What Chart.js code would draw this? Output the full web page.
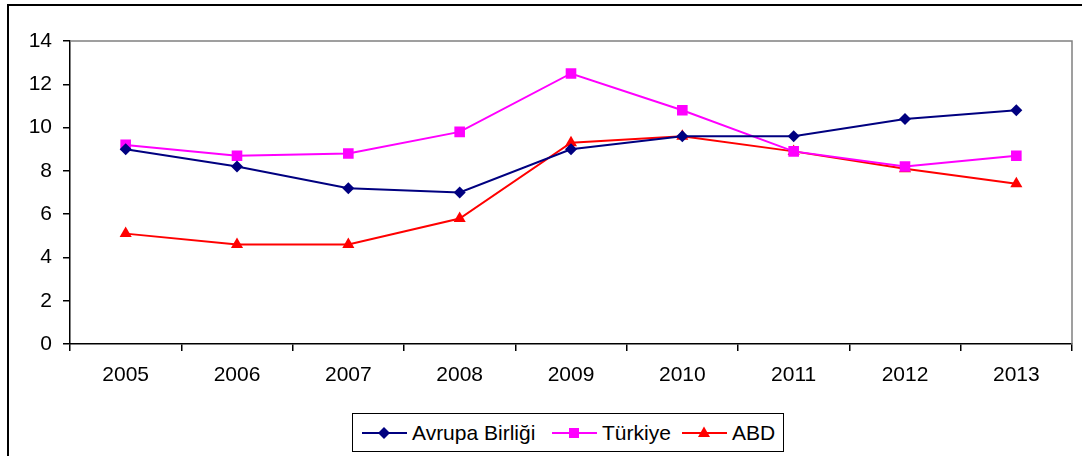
<!DOCTYPE html>
<html>
<head>
<meta charset="utf-8">
<script src="https://cdn.jsdelivr.net/npm/chart.js@4/dist/chart.umd.min.js"></script>
<style>
    html, body { margin: 0; padding: 0; background: #fff; overflow: hidden; }
    #wrap { position: relative; width: 1082px; height: 456px; overflow: hidden; }
    #frame { position: absolute; left: 7px; top: 4px; width: 1200px; height: 600px; border: 2px solid #000; box-sizing: border-box; }
    #chartBox { position: absolute; left: 0; top: 0; width: 1082px; height: 456px; }
    #legend {
        position: absolute; left: 352px; top: 413px; width: 432px; height: 39px;
        border: 1px solid #000; box-sizing: border-box; background: #fff;
        font-family: 'Liberation Sans', Arial, sans-serif; font-size: 21px; color: #000;
    }
    #legend .item { position: absolute; top: 0; height: 37px; display: flex; align-items: center; white-space: nowrap; }
    #legend svg { margin-right: 5px; }
</style>
</head>
<body>
<div id="wrap">
    <div id="frame"></div>
    <div id="chartBox"><canvas id="lineChart" width="1082" height="456"></canvas></div>
    <div id="legend"></div>
</div>
<script>
    const years = ['2005', '2006', '2007', '2008', '2009', '2010', '2011', '2012', '2013'];
    const avrupaBirligi = [9.0, 8.2, 7.2, 7.0, 9.0, 9.6, 9.6, 10.4, 10.8];
    const turkiye = [9.2, 8.7, 8.8, 9.8, 12.5, 10.8, 8.9, 8.2, 8.7];
    const abd = [5.1, 4.6, 4.6, 5.8, 9.3, 9.6, 8.9, 8.1, 7.4];
    const yTicks = [0, 2, 4, 6, 8, 10, 12, 14];

    const fontFamily = "'Liberation Sans', Arial, sans-serif";

    const series = [
        { label: 'Avrupa Birliği', data: avrupaBirligi, color: '#000080', pointStyle: 'rectRot', radius: 6 },
        { label: 'Türkiye', data: turkiye, color: '#FF00FF', pointStyle: 'rect', radius: 7.5 },
        { label: 'ABD', data: abd, color: '#FF0000', pointStyle: 'triangle', radius: 7 }
    ];

    // gray frame on top and right of the plot area, like the original
    const plotFrame = {
        id: 'plotFrame',
        beforeDatasetsDraw(chart) {
            const { ctx, chartArea: a } = chart;
            ctx.save();
            ctx.strokeStyle = '#808080';
            ctx.lineWidth = 1.5;
            ctx.beginPath();
            ctx.moveTo(a.left, a.top);
            ctx.lineTo(a.right, a.top);
            ctx.lineTo(a.right, a.bottom);
            ctx.stroke();
            ctx.restore();
        }
    };

    new Chart(document.getElementById('lineChart'), {
        type: 'line',
        data: {
            labels: years,
            datasets: series.map((s) => ({
                label: s.label,
                data: s.data,
                borderColor: s.color,
                backgroundColor: s.color,
                borderWidth: 2,
                pointStyle: s.pointStyle,
                pointRadius: s.radius,
                pointHoverRadius: s.radius,
                pointBorderWidth: 0,
                tension: 0,
                fill: false
            }))
        },
        options: {
            responsive: false,
            animation: false,
            layout: { padding: { top: 41, right: 10, left: 0, bottom: 0 } },
            plugins: { legend: { display: false }, tooltip: { enabled: false } },
            scales: {
                x: {
                    offset: true,
                    grid: { offset: true, drawOnChartArea: false, drawTicks: true, tickLength: 7, color: '#000', lineWidth: 1.5 },
                    border: { color: '#000', width: 1.5 },
                    ticks: { color: '#000', font: { family: fontFamily, size: 21 }, padding: 12, maxRotation: 0 },
                    afterFit: (scale) => { scale.height = 112; }
                },
                y: {
                    min: 0,
                    max: 14,
                    afterBuildTicks: (scale) => { scale.ticks = yTicks.map((v) => ({ value: v })); },
                    grid: { drawOnChartArea: false, drawTicks: true, tickLength: 7, color: '#000', lineWidth: 1.5 },
                    border: { color: '#000', width: 1.5 },
                    ticks: { color: '#000', font: { family: fontFamily, size: 21 }, padding: 11 },
                    afterFit: (scale) => { scale.width = 70; }
                }
            }
        },
        plugins: [plotFrame]
    });

    // legend: line with marker, then the name
    const legendEl = document.getElementById('legend');
    const legendPos = [9, 199, 329];
    const markerSvg = (s) => {
        let shape = '';
        if (s.pointStyle === 'rectRot') shape = '<polygon points="22,14 28,20 22,26 16,20" fill="' + s.color + '"/>';
        if (s.pointStyle === 'rect') shape = '<rect x="17" y="15" width="10" height="10" fill="' + s.color + '"/>';
        if (s.pointStyle === 'triangle') shape = '<polygon points="22,13.5 28,24 16,24" fill="' + s.color + '"/>';
        return '<svg width="45" height="40" viewBox="0 0 45 40"><line x1="0" y1="20" x2="45" y2="20" stroke="' + s.color + '" stroke-width="2"/>' + shape + '</svg>';
    };
    series.forEach((s, i) => {
        const item = document.createElement('div');
        item.className = 'item';
        item.style.left = legendPos[i] + 'px';
        item.innerHTML = markerSvg(s) + '<span>' + s.label + '</span>';
        legendEl.appendChild(item);
    });
</script>
</body>
</html>
